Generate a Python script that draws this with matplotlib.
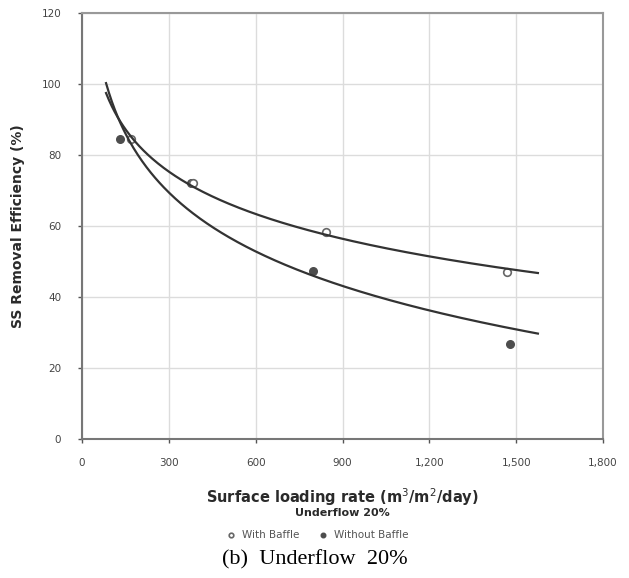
import numpy as np
import matplotlib
matplotlib.use("Agg")
import matplotlib.pyplot as plt
from matplotlib.ticker import FuncFormatter

# ---- data ----
with_x = [168, 385, 843, 1469]
with_y = [84.5, 72.0, 58.3, 47.0]
without_x = [131, 375, 798, 1479]
without_y = [84.5, 72.0, 47.3, 26.8]
trend_start = 83
trend_end = 1575

x_ticks = [0, 300, 600, 900, 1200, 1500, 1800]
y_ticks = [0, 20, 40, 60, 80, 100, 120]

fig = plt.figure(figsize=(6.29, 5.78), dpi=100)
ax = fig.add_axes([0.1304, 0.2405, 0.8283, 0.737])

# logarithmic trend lines fitted to the points (Excel-style)
def log_fit(xs, ys):
    b, a = np.polyfit(np.log(xs), ys, 1)
    xx = np.linspace(trend_start, trend_end, 300)
    return xx, a + b * np.log(xx)

tx, ty = log_fit(with_x, with_y)
ax.plot(tx, ty, color="#333333", lw=1.6, zorder=6)
tx2, ty2 = log_fit(without_x, without_y)
ax.plot(tx2, ty2, color="#333333", lw=1.6, zorder=6)

ax.scatter(without_x, without_y, s=30, marker="o", facecolor="#4d4d4d",
           edgecolor="#4d4d4d", zorder=4, label="Without Baffle")
ax.scatter(with_x, with_y, s=30, marker="o", facecolor="white",
           edgecolor="#666666", linewidths=1.2, zorder=5, label="With Baffle")

ax.set_xlim(0, 1800)
ax.set_ylim(0, 120)
ax.set_xticks(x_ticks)
ax.set_yticks(y_ticks)
ax.xaxis.set_major_formatter(FuncFormatter(lambda v, p: f"{int(v):,}"))
ax.grid(True, color="#dcdcdc", lw=1.0)
ax.set_axisbelow(True)
ax.tick_params(axis="both", labelsize=7.5, colors="#555555", length=3,
               width=1, direction="out", labelcolor="#444444")
ax.tick_params(axis="x", pad=11)
ax.tick_params(axis="y", pad=12)
for s in ["top", "right"]:
    ax.spines[s].set_color("#999999")
    ax.spines[s].set_linewidth(1.5)
for s in ["left", "bottom"]:
    ax.spines[s].set_color("#777777")
    ax.spines[s].set_linewidth(1.5)

fig.text(0.029, 0.609, "SS Removal Efficiency (%)", rotation=90,
         ha="center", va="center", fontsize=10, fontweight="bold", color="#2a2a2a")
fig.text(0.545, 0.140, "Surface loading rate (m$^3$/m$^2$/day)", ha="center",
         va="center", fontsize=10.5, fontweight="bold", color="#2a2a2a")
fig.text(0.545, 0.112, "Underflow 20%", ha="center", va="center",
         fontsize=8, fontweight="bold", color="#2a2a2a")

h, l = ax.get_legend_handles_labels()
fig.legend([h[1], h[0]], [l[1], l[0]], loc="center", bbox_to_anchor=(0.5, 0.074),
           ncol=2, frameon=False, fontsize=7.5, handletextpad=0.1,
           columnspacing=1.2, markerscale=0.6, labelcolor="#555555")

fig.text(0.5, 0.031, "(b)  Underflow  20%", ha="center", va="center",
         fontsize=16, family="Liberation Serif", color="black")

fig.savefig("out.png", dpi=100)
